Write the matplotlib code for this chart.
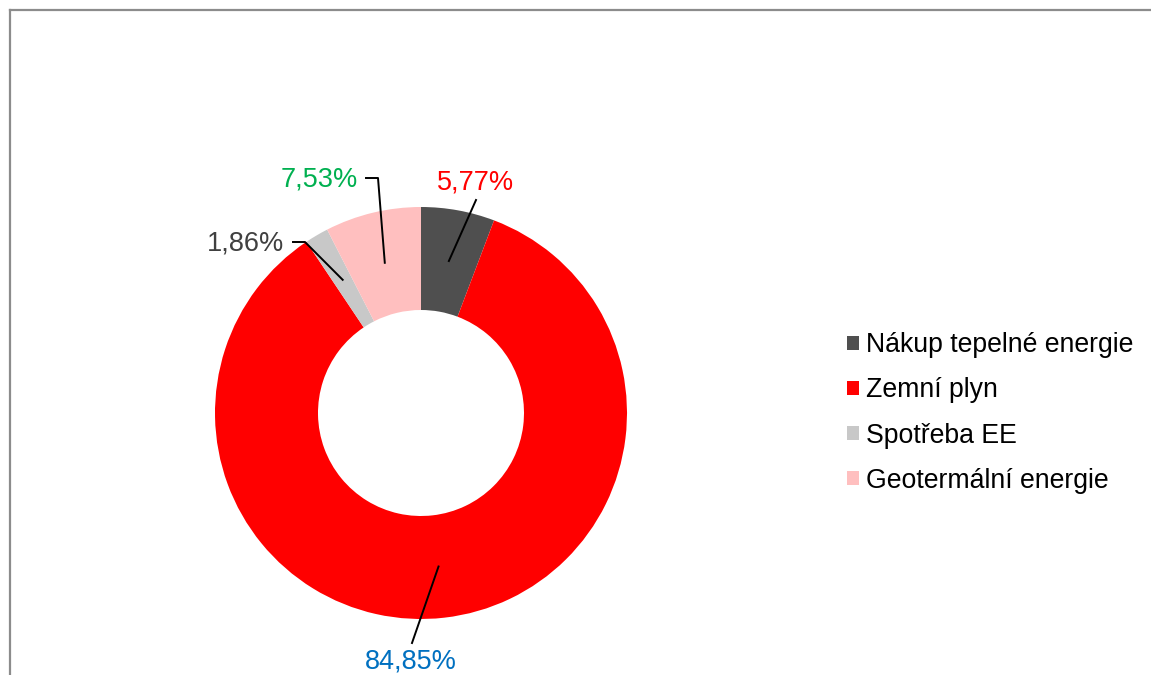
import matplotlib
matplotlib.use("Agg")
import matplotlib.pyplot as plt
import numpy as np
from matplotlib.patches import Patch
from matplotlib.lines import Line2D

categories = ["Nákup tepelné energie", "Zemní plyn", "Spotřeba EE", "Geotermální energie"]
values = [5.77, 84.85, 1.86, 7.53]
labels = ["5,77%", "84,85%", "1,86%", "7,53%"]
colors = ["#4f4f4f", "#ff0000", "#c8c8c8", "#ffbfbf"]
label_colors = ["#ff0000", "#0070c0", "#404040", "#00b050"]

plt.rcParams['font.family'] = ['Liberation Sans', 'DejaVu Sans']

W, H = 1151, 675
fig = plt.figure(figsize=(W / 100, H / 100), dpi=100)
fig.patch.set_facecolor("white")

cx, cy, R = 421, 413, 206
ax = fig.add_axes([(cx - R) / W, (H - cy - R) / H, 2 * R / W, 2 * R / H])

wedges, _ = ax.pie(values, colors=colors, startangle=90, counterclock=False, radius=1.0,
                   wedgeprops=dict(width=0.5, edgecolor="none"))
ax.set_xlim(-1, 1)
ax.set_ylim(-1, 1)
ax.set_aspect("equal")
ax.axis("off")

def px2d(px, py):
    return ((px - cx) / R, (cy - py) / R)

# label layout: (text position px, elbow px or None, ha)
layout = [
    ((476, 182), None, "center"),
    ((411, 662), None, "center"),
    ((284, 243), (305, 242), "right"),
    ((358, 179), (378, 178), "right"),
]
total = sum(values)
start = 90.0
for i, v in enumerate(values):
    span = v / total * 360
    mid = np.deg2rad(start - span / 2)
    start -= span
    x0, y0 = 0.75 * np.cos(mid), 0.75 * np.sin(mid)
    (tx, ty), elbow, ha = layout[i]
    txd, tyd = px2d(tx, ty)
    if i == 0:
        ex, ey = px2d(476, 200)
        ax.plot([x0, ex], [y0, ey], color="black", lw=1.4, clip_on=False)
    elif i == 1:
        ex, ey = px2d(412, 643)
        ax.plot([x0, ex], [y0, ey], color="black", lw=1.4, clip_on=False)
    else:
        ex, ey = px2d(*elbow)
        hx, hy = px2d(elbow[0] - 12, elbow[1])
        ax.plot([x0, ex, hx], [y0, ey, hy], color="black", lw=1.4, clip_on=False)
    ax.text(txd, tyd, labels[i], color=label_colors[i], fontsize=19.5, ha=ha, va="center",
            clip_on=False)

handles = [Patch(facecolor=c, edgecolor="none") for c in colors]
fig.legend(handles, categories, loc="center left", bbox_to_anchor=(847 / W, 1 - 413 / H),
           frameon=False, fontsize=19.2, handlelength=0.45, handleheight=0.45,
           handletextpad=0.25, labelspacing=0.72, borderpad=0, borderaxespad=0)

# border
bc = "#8c8c8c"
fig.add_artist(Line2D([9.5 / W, 1.0], [1 - 9.5 / H, 1 - 9.5 / H], color=bc, lw=1.6,
                      transform=fig.transFigure))
fig.add_artist(Line2D([9.5 / W, 9.5 / W], [0, 1 - 9.5 / H], color=bc, lw=1.6,
                      transform=fig.transFigure))

fig.savefig("out.png", dpi=100, facecolor="white")
